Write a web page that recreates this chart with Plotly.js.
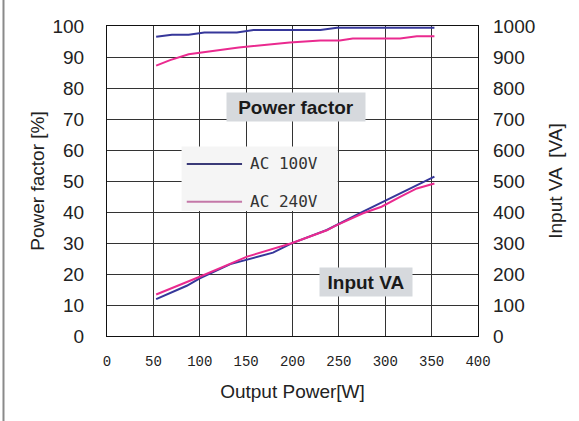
<!DOCTYPE html>
<html>
<head>
<meta charset="utf-8">
<script src="https://cdn.plot.ly/plotly-3.0.1.min.js"></script>
<style>html,body{margin:0;padding:0;background:#fff;}#chart{width:579px;height:421px;}</style>
</head>
<body>
<div id="chart"></div>
<script>
// Power factor (left axis, %)
const xPF100 = [53, 70, 88, 105, 140, 158, 230, 248, 353];
const pf100  = [96.5, 97.2, 97.2, 97.9, 97.9, 98.7, 98.7, 99.4, 99.4];
const xPF240 = [53, 68, 88, 107, 142, 197, 230, 251, 265, 316, 334, 353];
const pf240  = [87.2, 89, 90.9, 91.7, 93.1, 94.7, 95.3, 95.3, 96, 96, 96.7, 96.7];
// Input VA (right axis, VA)
const xVA100 = [53, 86, 100, 133, 179, 199, 237, 276, 353];
const va100  = [119, 162, 186, 232, 269, 299, 342, 401, 514];
const xVA240 = [53, 100, 151, 199, 237, 246, 276, 296, 316, 334, 353];
const va240  = [134, 191, 256, 299, 341, 355, 396, 417, 449, 476, 492];

const seriesNames = ["AC 100V", "AC 240V"];
const xTicks = [0, 50, 100, 150, 200, 250, 300, 350, 400];

const blue = "#36379a";
const pink = "#ea2a8f";

const traces = [
  {x: xPF100, y: pf100, name: seriesNames[0], mode: "lines", line: {color: blue, width: 2}, yaxis: "y"},
  {x: xPF240, y: pf240, name: seriesNames[1], mode: "lines", line: {color: pink, width: 2}, yaxis: "y"},
  {x: xVA100, y: va100, name: seriesNames[0], mode: "lines", line: {color: blue, width: 2}, yaxis: "y2"},
  {x: xVA240, y: va240, name: seriesNames[1], mode: "lines", line: {color: pink, width: 2}, yaxis: "y2"}
];

const big = {family: "Liberation Sans, Arial, sans-serif", size: 19, color: "#222"};

const layout = {
  width: 579, height: 421,
  margin: {l: 107, r: 101, t: 26, b: 85},
  paper_bgcolor: "#fff", plot_bgcolor: "#fff",
  showlegend: false,
  xaxis: {
    range: [0, 400], tickvals: xTicks, ticktext: xTicks.map(String),
    showgrid: true, gridcolor: "#333", gridwidth: 1,
    showline: true, linecolor: "#111", linewidth: 1, mirror: true,
    zeroline: false, ticks: "", ticklabelstandoff: 12,
    tickfont: {family: "Liberation Mono, DejaVu Sans Mono, monospace", size: 14, color: "#222"},
    title: {text: "Output Power[W]", font: big, standoff: 15}
  },
  yaxis: {
    range: [0, 100], dtick: 10,
    showgrid: true, gridcolor: "#333", gridwidth: 1,
    showline: true, linecolor: "#111", linewidth: 1, mirror: true,
    zeroline: false, ticks: "", ticklabelstandoff: 18,
    tickfont: big,
    title: {text: "Power factor [%]", font: big, standoff: 2}
  },
  yaxis2: {
    range: [0, 1000], dtick: 100, overlaying: "y", side: "right",
    showgrid: false, zeroline: false, showline: false, ticks: "",
    ticklabelstandoff: 14,
    tickfont: big,
    title: {text: "Input VA\u2002[VA]", font: big, standoff: 14}
  },
  shapes: [
    {type: "line", xref: "paper", yref: "paper", x0: -0.279, x1: -0.279, y0: -0.28, y1: 1.1,
     line: {color: "#8a8a8a", width: 2}},
    {type: "rect", xref: "paper", yref: "paper", x0: 0.201, x1: 0.622, y0: 0.403, y1: 0.611,
     fillcolor: "#f5f5f5", line: {width: 0}, layer: "above"},
    {type: "line", xref: "paper", yref: "paper", x0: 0.215, x1: 0.364, y0: 0.555, y1: 0.555,
     line: {color: "#3a3a78", width: 2}, layer: "above"},
    {type: "line", xref: "paper", yref: "paper", x0: 0.215, x1: 0.364, y0: 0.433, y1: 0.433,
     line: {color: "#c478a8", width: 2}, layer: "above"}
  ],
  annotations: [
    {xref: "paper", yref: "paper", x: 0.38, y: 0.555, xanchor: "left", yanchor: "middle",
     text: seriesNames[0], showarrow: false,
     font: {family: "DejaVu Sans Mono, monospace", size: 16, color: "#333"}},
    {xref: "paper", yref: "paper", x: 0.38, y: 0.433, xanchor: "left", yanchor: "middle",
     text: seriesNames[1], showarrow: false,
     font: {family: "DejaVu Sans Mono, monospace", size: 16, color: "#333"}},
    {xref: "paper", yref: "paper", x: 0.509, y: 0.739, xanchor: "center", yanchor: "middle",
     text: "<b>Power factor</b>", showarrow: false, bgcolor: "#d6d9dd",
     width: 134, height: 24, borderpad: 2,
     font: {family: "Liberation Sans, Arial, sans-serif", size: 19, color: "#1a1a1a"}},
    {xref: "paper", yref: "paper", x: 0.698, y: 0.173, xanchor: "center", yanchor: "middle",
     text: "<b>Input VA</b>", showarrow: false, bgcolor: "#d6d9dd",
     width: 88, height: 24, borderpad: 2,
     font: {family: "Liberation Sans, Arial, sans-serif", size: 19, color: "#1a1a1a"}}
  ]
};

Plotly.newPlot("chart", traces, layout, {displayModeBar: false, staticPlot: true});
</script>
</body>
</html>
